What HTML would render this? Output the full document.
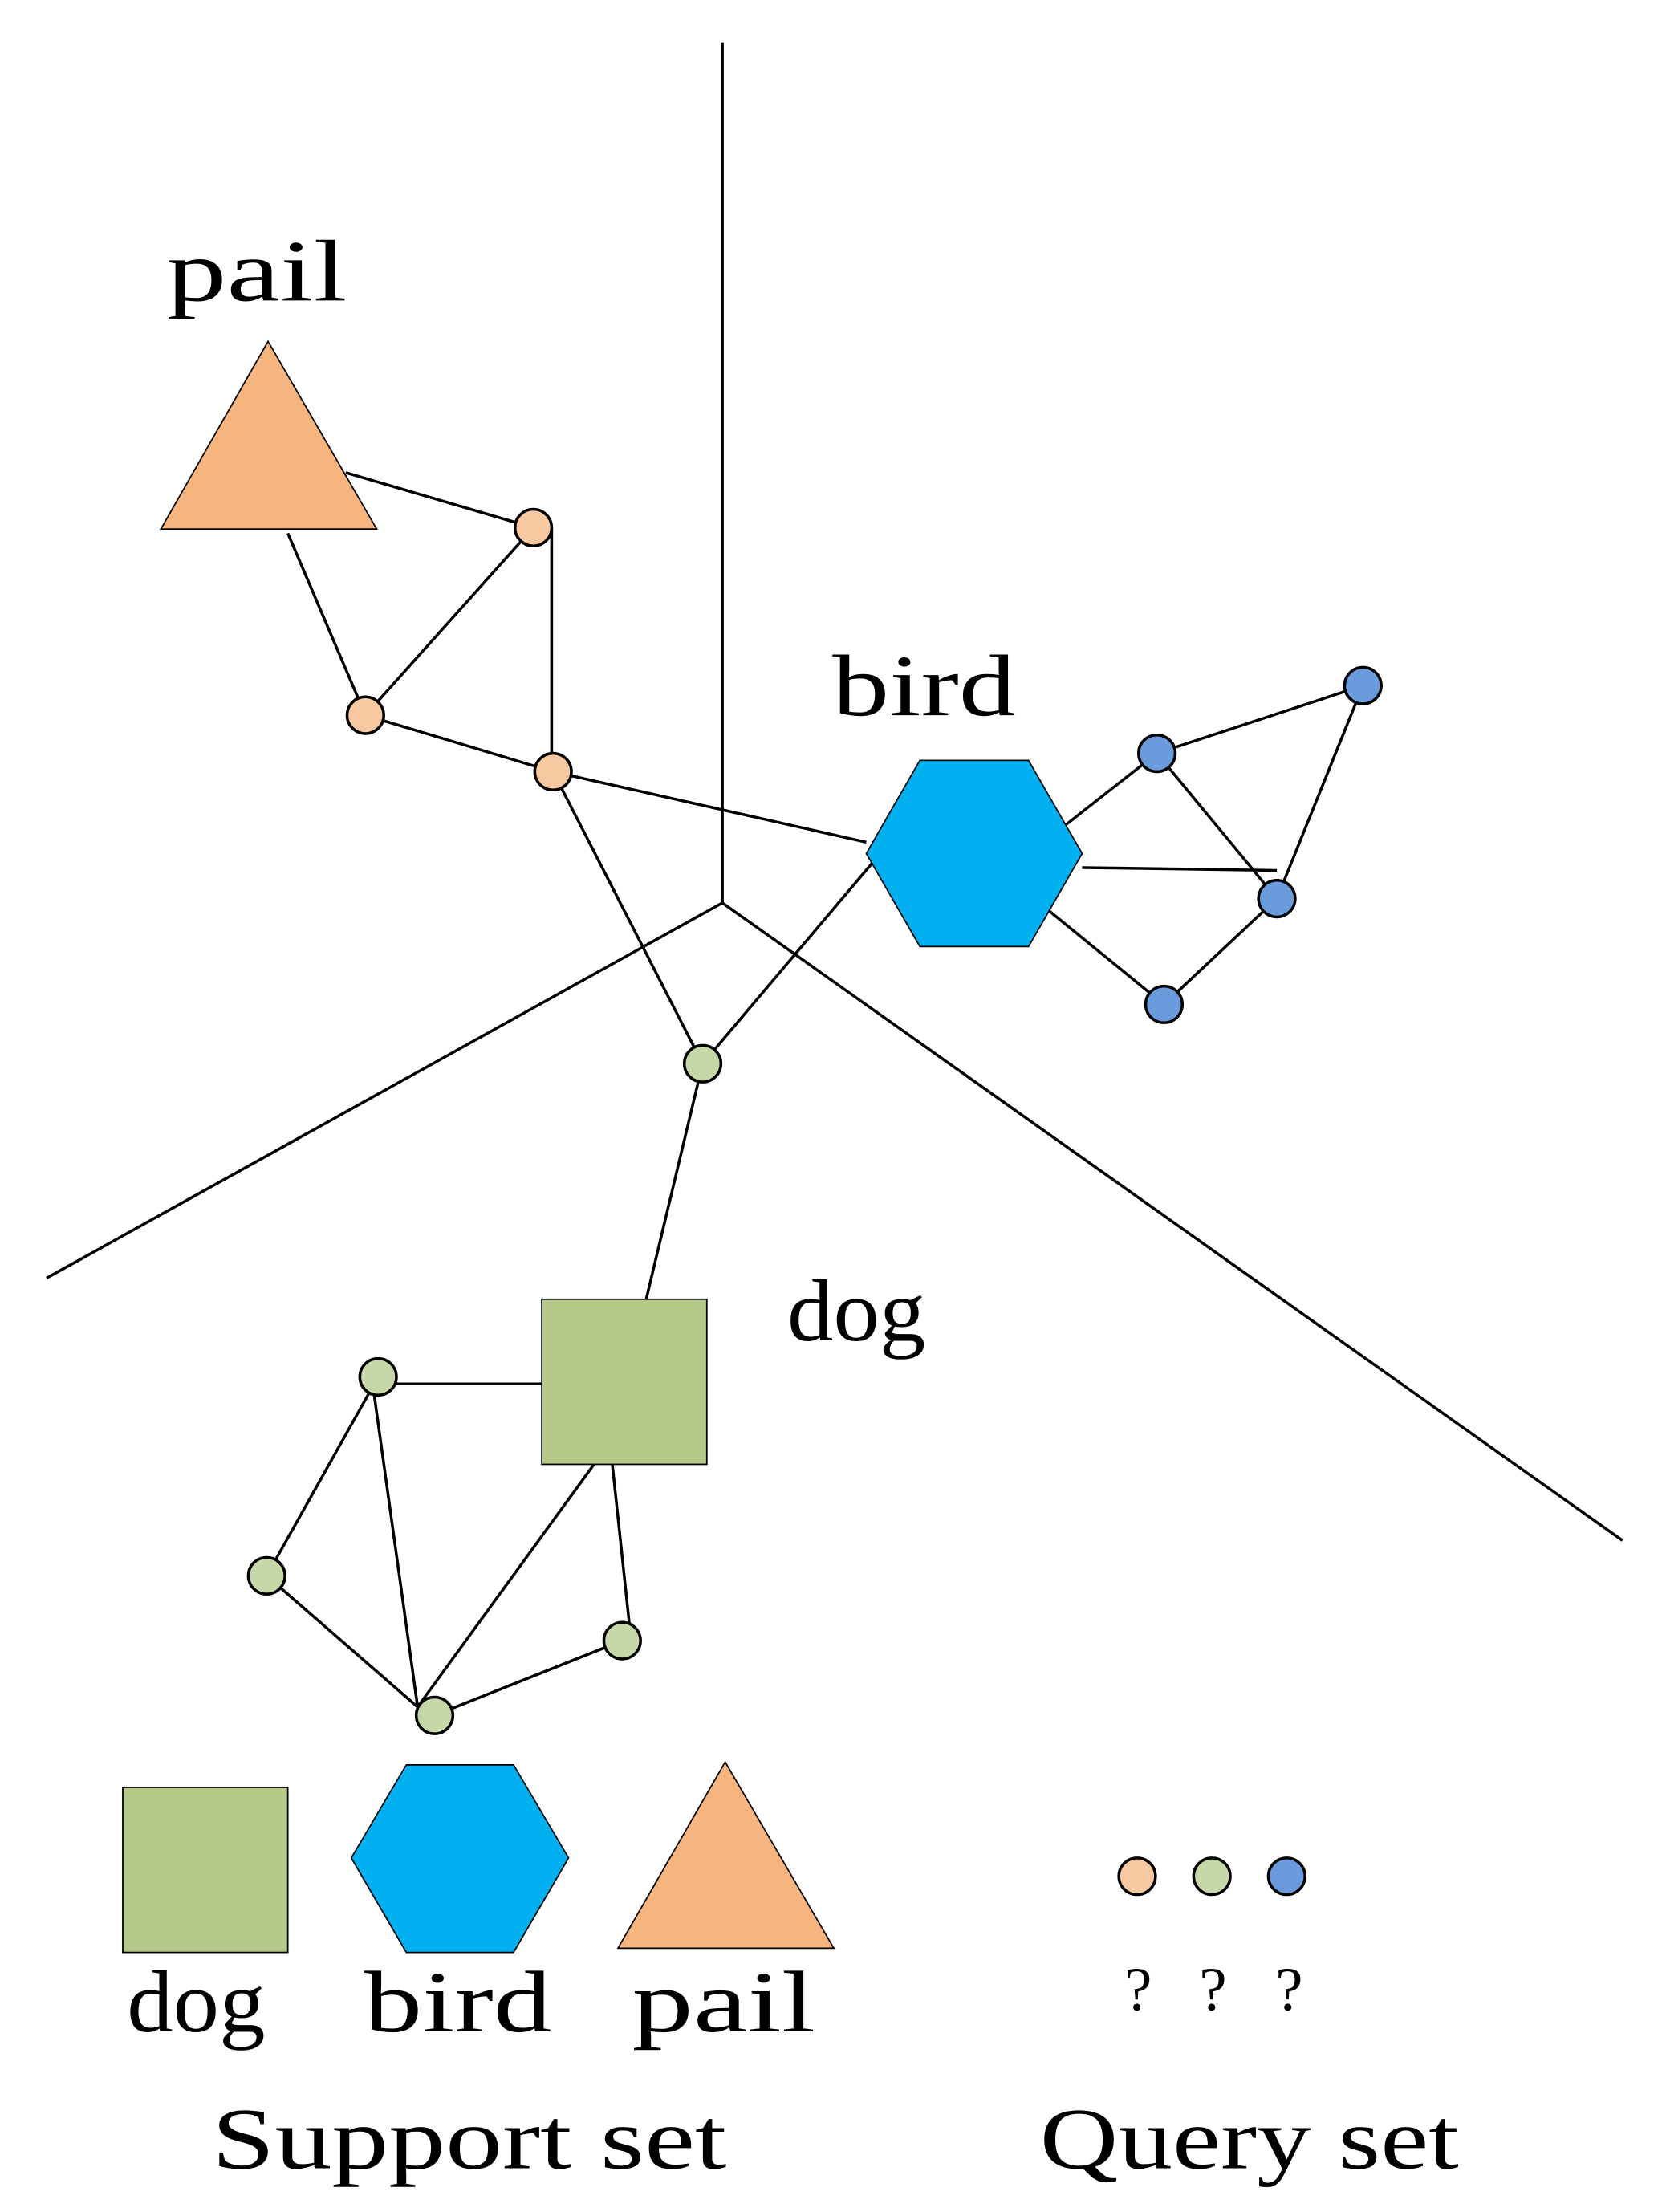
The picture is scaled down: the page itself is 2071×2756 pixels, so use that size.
<!DOCTYPE html>
<html><head><meta charset="utf-8"><style>
html,body{margin:0;padding:0;background:#fff;}
svg{display:block;}
text{font-family:"Liberation Serif","Noto Serif CJK SC",serif;fill:#000;}
</style></head><body>
<svg width="2071" height="2756" viewBox="0 0 1178 1568" preserveAspectRatio="none" xmlns="http://www.w3.org/2000/svg">
<rect width="1185" height="1577" fill="#fff"/>
<g stroke="#000" stroke-width="2" fill="none">
<line x1="512" y1="30" x2="512" y2="640"/>
<line x1="512" y1="640" x2="33" y2="906"/>
<line x1="512" y1="640" x2="1150" y2="1092"/>
<line x1="245" y1="335" x2="378" y2="374"/>
<line x1="204" y1="378" x2="259" y2="507"/>
<line x1="378" y1="374" x2="259" y2="507"/>
<line x1="391" y1="374" x2="391" y2="547"/>
<line x1="259" y1="507" x2="392" y2="547"/>
<line x1="392" y1="547" x2="614" y2="597"/>
<line x1="392" y1="547" x2="498" y2="754"/>
<line x1="498" y1="754" x2="618" y2="612"/>
<line x1="498" y1="754" x2="458" y2="921"/>
<line x1="755" y1="585" x2="820" y2="534"/>
<line x1="820" y1="534" x2="966" y2="486"/>
<line x1="966" y1="486" x2="905" y2="637"/>
<line x1="820" y1="534" x2="905" y2="637"/>
<line x1="767" y1="615" x2="905" y2="617"/>
<line x1="905" y1="637" x2="825" y2="712"/>
<line x1="744" y1="646" x2="825" y2="712"/>
<line x1="268" y1="981" x2="384" y2="981"/>
<line x1="268" y1="976" x2="189" y2="1117"/>
<line x1="264" y1="980" x2="296" y2="1210"/>
<line x1="189" y1="1117" x2="296" y2="1210"/>
<line x1="421" y1="1038" x2="296" y2="1210"/>
<line x1="308" y1="1216" x2="441" y2="1163"/>
<line x1="434" y1="1038" x2="447" y2="1160"/>
</g>
<g stroke="#000" stroke-width="1">
<polygon points="190,242 114,375 267,375" fill="#F6B47F"/>
<polygon points="614,605 652,539 729,539 767,605 729,671 652,671" fill="#00B0F0"/>
<rect x="384" y="921" width="117" height="117" fill="#B6C98A"/>
<rect x="87" y="1267" width="117" height="117" fill="#B6C98A"/>
<polygon points="249,1317 288,1251 364,1251 403,1317 364,1384 288,1384" fill="#00B0F0"/>
<polygon points="514,1249 438,1381 591,1381" fill="#F6B47F"/>
</g>
<g stroke="#000" stroke-width="2">
<circle cx="378" cy="374" r="13" fill="#F8C8A0"/>
<circle cx="259" cy="507" r="13" fill="#F8C8A0"/>
<circle cx="392" cy="547" r="13" fill="#F8C8A0"/>
<circle cx="498" cy="754" r="13" fill="#C6D8A8"/>
<circle cx="820" cy="534" r="13" fill="#6A9BDC"/>
<circle cx="966" cy="486" r="13" fill="#6A9BDC"/>
<circle cx="905" cy="637" r="13" fill="#6A9BDC"/>
<circle cx="825" cy="712" r="13" fill="#6A9BDC"/>
<circle cx="268" cy="976" r="13" fill="#C6D8A8"/>
<circle cx="189" cy="1117" r="13" fill="#C6D8A8"/>
<circle cx="441" cy="1163" r="13" fill="#C6D8A8"/>
<circle cx="308" cy="1216" r="13" fill="#C6D8A8"/>
<circle cx="806" cy="1330" r="13" fill="#F8C8A0"/>
<circle cx="859" cy="1330" r="13" fill="#C6D8A8"/>
<circle cx="912" cy="1330" r="13" fill="#6A9BDC"/>
</g>
<g font-size="62">
<text x="118" y="213" textLength="128" lengthAdjust="spacingAndGlyphs">pail</text>
<text x="590" y="507" textLength="130" lengthAdjust="spacingAndGlyphs">bird</text>
<text x="558" y="950" textLength="98" lengthAdjust="spacingAndGlyphs">dog</text>
<text x="90" y="1440" textLength="98" lengthAdjust="spacingAndGlyphs">dog</text>
<text x="258" y="1440" textLength="133" lengthAdjust="spacingAndGlyphs">bird</text>
<text x="448" y="1440" textLength="130" lengthAdjust="spacingAndGlyphs">pail</text>
<text x="150" y="1537" textLength="365" lengthAdjust="spacingAndGlyphs">Support set</text>
<text x="737" y="1537" textLength="297" lengthAdjust="spacingAndGlyphs">Query set</text>
</g>
<g font-size="44">
<text x="797" y="1425">?</text>
<text x="850" y="1425">?</text>
<text x="904" y="1425">?</text>
</g>
</svg>
</body></html>
